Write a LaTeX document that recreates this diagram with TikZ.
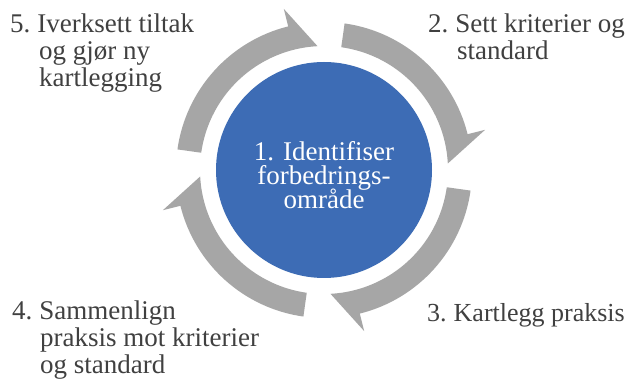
\documentclass[tikz,border=0pt]{standalone}
\usepackage{fontspec}
\setmainfont{Liberation Serif}
\definecolor{ringgray}{HTML}{A6A6A6}
\definecolor{coreblue}{HTML}{3D6CB5}
\definecolor{txtgray}{HTML}{404040}
\begin{document}
\begin{tikzpicture}[x=1pt,y=1pt,
  txt/.style={inner sep=0pt, text=txtgray, anchor=base west,
    font={\fontsize{27}{27}\selectfont\lineskiplimit=-30pt}},
  ringarrow/.style={fill=ringgray}]
\useasboundingbox (0,0) rectangle (630,385);
\fill[white] (0,0) rectangle (630,385);
\coordinate (c) at (324,215);
\foreach \r in {0,-90,-180,-270}{
  \fill[ringarrow, shift={(c)}]
    ({172+\r}:148) arc[start angle={172+\r}, end angle={104+\r}, radius=148]
    -- ({104+\r}:166) -- ({93+\r}:124)
    arc[start angle={93+\r}, end angle={172+\r}, radius=124] -- cycle;
}
\node[circle, fill=coreblue, minimum size=216pt, inner sep=0pt] (core) at (c) {};
\node[inner sep=0pt, text=white, anchor=base,
  font={\fontsize{27}{24}\selectfont\lineskiplimit=-30pt}] (coretext) at (324,224)
  {\vtop{\halign{\hfil#\hfil\cr 1. Identifiser\cr forbedrings-\cr område\cr}}};
\node[txt] (t5) at (10,352)
  {\vtop{\hbox{5.\hspace{7pt}Iverksett tiltak}\hbox{\hspace{29pt}og gjør ny}\hbox{\hspace{29pt}kartlegging}}};
\node[txt] (t2) at (428,352)
  {\vtop{\hbox{2.\hspace{7pt}Sett kriterier og}\hbox{\hspace{29pt}standard}}};
\node[txt, font={\fontsize{26}{27}\selectfont}] (t3) at (427,63)
  {3.\hspace{7pt}Kartlegg praksis};
\node[txt] (t4) at (12,65)
  {\vtop{\hbox{4.\hspace{7pt}Sammenlign}\hbox{\hspace{28pt}praksis mot kriterier}\hbox{\hspace{28pt}og standard}}};
\end{tikzpicture}
\end{document}
